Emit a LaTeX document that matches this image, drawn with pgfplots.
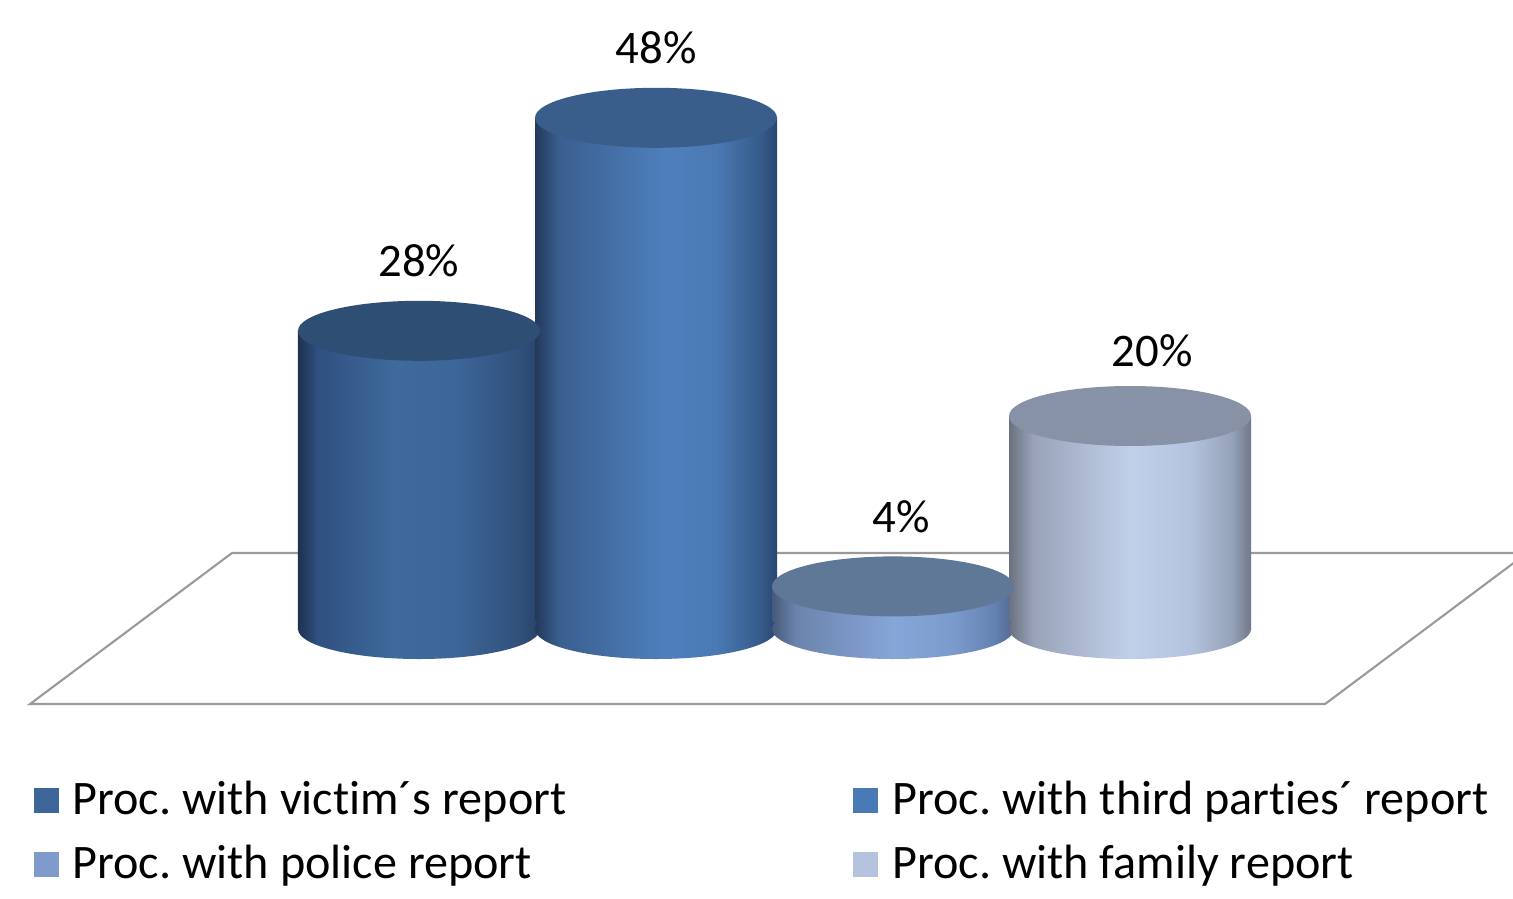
\documentclass[border=0pt]{standalone}
\usepackage{fontspec}
\setmainfont{Carlito}[Ligatures={NoCommon}]
\usepackage{pgfplots}
\pgfplotsset{compat=1.18}

% side colours (left edge -> right edge)
\definecolor{aA}{HTML}{1E3150}\definecolor{aB}{HTML}{2F5080}\definecolor{aC}{HTML}{3F6A9C}
\definecolor{aD}{HTML}{3D6699}\definecolor{aE}{HTML}{30507A}\definecolor{aF}{HTML}{27426A}
\definecolor{bA}{HTML}{23395A}\definecolor{bB}{HTML}{3A5F8F}\definecolor{bC}{HTML}{4F80BD}
\definecolor{bD}{HTML}{4A79B3}\definecolor{bE}{HTML}{365B8B}\definecolor{bF}{HTML}{2A4670}
\definecolor{cA}{HTML}{47597A}\definecolor{cB}{HTML}{6B84AD}\definecolor{cC}{HTML}{86A5D8}
\definecolor{cD}{HTML}{7B9BCD}\definecolor{cE}{HTML}{6481B0}\definecolor{cF}{HTML}{4F6890}
\definecolor{dA}{HTML}{6B7180}\definecolor{dB}{HTML}{98A3B8}\definecolor{dC}{HTML}{C1D0EA}
\definecolor{dD}{HTML}{B3C2DE}\definecolor{dE}{HTML}{96A2B9}\definecolor{dF}{HTML}{707888}
% tops
\definecolor{topA}{HTML}{2F4E74}\definecolor{topB}{HTML}{3A5E8C}
\definecolor{topC}{HTML}{607898}\definecolor{topD}{HTML}{8792A6}
% legend
\definecolor{legA}{HTML}{3D6599}\definecolor{legB}{HTML}{4A7AB5}
\definecolor{legC}{HTML}{7F9BCB}\definecolor{legD}{HTML}{B5C3DF}
\definecolor{floorgray}{HTML}{9A9A9A}

\pgfdeclarehorizontalshading{sideA}{100bp}{color(0bp)=(aA); color(25bp)=(aA); color(29bp)=(aB); color(45bp)=(aC); color(57.5bp)=(aD); color(71bp)=(aE); color(75bp)=(aF); color(100bp)=(aF)}
\pgfdeclarehorizontalshading{sideB}{100bp}{color(0bp)=(bA); color(25bp)=(bA); color(30bp)=(bB); color(52.5bp)=(bC); color(62.5bp)=(bD); color(71.5bp)=(bE); color(75bp)=(bF); color(100bp)=(bF)}
\pgfdeclarehorizontalshading{sideC}{100bp}{color(0bp)=(cA); color(25bp)=(cA); color(30bp)=(cB); color(50bp)=(cC); color(62.5bp)=(cD); color(71bp)=(cE); color(75bp)=(cF); color(100bp)=(cF)}
\pgfdeclarehorizontalshading{sideD}{100bp}{color(0bp)=(dA); color(25bp)=(dA); color(30bp)=(dB); color(50bp)=(dC); color(62.5bp)=(dD); color(71bp)=(dE); color(75bp)=(dF); color(100bp)=(dF)}

\newcommand{\capellipse}{\pgfpathellipse{\pgfpointorigin}{\pgfqpoint{1.21cm}{0pt}}{\pgfqpoint{0pt}{0.30cm}}}
\pgfdeclareplotmark{cap}{\capellipse\pgfusepath{fill}}
\pgfdeclareplotmark{botA}{\capellipse\pgfshadepath{sideA}{0}\pgfusepath{discard}}
\pgfdeclareplotmark{botB}{\capellipse\pgfshadepath{sideB}{0}\pgfusepath{discard}}
\pgfdeclareplotmark{botC}{\capellipse\pgfshadepath{sideC}{0}\pgfusepath{discard}}
\pgfdeclareplotmark{botD}{\capellipse\pgfshadepath{sideD}{0}\pgfusepath{discard}}

\newcommand{\legsquare}[1]{\pgfpathrectangle{\pgfpoint{0cm}{-0.125cm}}{\pgfpoint{0.25cm}{0.25cm}}\pgfsetfillcolor{#1}\pgfusepath{fill}}

\pgfplotsset{
  cylside/.style={ybar, bar width=2.42cm, bar shift=0pt, draw=none, shade, shading=#1},
  cyltop/.style={forget plot, only marks, mark=cap, mark options={fill=#1, draw=none},
    point meta=y,
    nodes near coords={\pgfmathprintnumber{\pgfplotspointmeta}\%},
    every node near coord/.append style={anchor=base, yshift=0.54cm,
      font=\fontsize{13.3pt}{16pt}\selectfont, text=black,
      /pgf/number format/assume math mode=true}},
  cylbot/.style={forget plot, only marks, mark=#1},
}

\begin{document}
\frenchspacing
\begin{tikzpicture}
\begin{axis}[
  scale only axis, width=15.13cm, height=8.98cm,
  xmin=-1.7679, xmax=4.6160, ymin=-25.26, ymax=59.06,
  hide axis,
  /pgf/number format/assume math mode=true,
  legend columns=2,
  legend cell align=left,
  legend style={at={(rel axis cs:0.0218,0.131)}, anchor=north west,
    draw=none, fill=none, inner sep=0pt,
    font=\fontsize{13.7pt}{16pt}\selectfont,
    nodes={inner xsep=0pt, inner ysep=0pt},
    row sep=0.25cm,
    /tikz/every odd column/.append style={column sep=0.14cm},
    /tikz/every even column/.append style={column sep=2.87cm}},
]
\path (rel axis cs:0,0) rectangle (rel axis cs:1,1);
% floor
\addplot[forget plot, draw=floorgray, line width=0.6pt, fill=white]
  coordinates {(-0.789,7.136) (4.675,7.136) (3.823,-7.042) (-1.641,-7.042)} -- cycle;

% Proc. with victim's report
\addplot[cylbot=botA] coordinates {(0,0)};
\addplot[cylside=sideA, legend image code/.code={\legsquare{legA}}]
  coordinates {(0,28)};
\addlegendentry{Proc. with victim´s report}
\addplot[cyltop=topA] coordinates {(0,28)};

% Proc. with third parties' report
\addplot[cylbot=botB] coordinates {(1,0)};
\addplot[cylside=sideB, legend image code/.code={\legsquare{legB}}]
  coordinates {(1,48)};
\addlegendentry{Proc. with third parties´ report}
\addplot[cyltop=topB] coordinates {(1,48)};

% Proc. with police report
\addplot[cylbot=botC] coordinates {(2,0)};
\addplot[cylside=sideC, legend image code/.code={\legsquare{legC}}]
  coordinates {(2,4)};
\addlegendentry{Proc. with police report}
\addplot[cyltop=topC, every node near coord/.append style={xshift=0.08cm}] coordinates {(2,4)};

% Proc. with family report
\addplot[cylbot=botD] coordinates {(3,0)};
\addplot[cylside=sideD, legend image code/.code={\legsquare{legD}}]
  coordinates {(3,20)};
\addlegendentry{Proc. with family report}
\addplot[cyltop=topD, every node near coord/.append style={xshift=0.22cm, yshift=-0.05cm}] coordinates {(3,20)};
\end{axis}
\end{tikzpicture}
\end{document}
